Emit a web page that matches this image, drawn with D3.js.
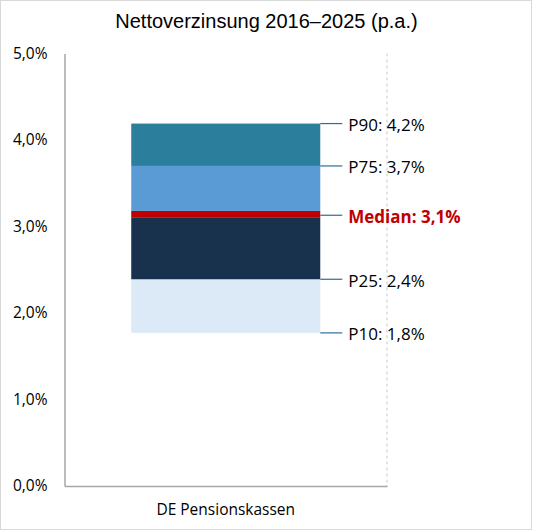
<!DOCTYPE html>
<html>
<head>
<meta charset="utf-8">
<script src="https://cdn.jsdelivr.net/npm/d3@7"></script>
<style>
  html, body { margin: 0; padding: 0; background: #fff; }
  svg { display: block; }
</style>
</head>
<body>
<svg id="chart" width="533" height="531"></svg>
<script>
// ---- data ----
const title = "Nettoverzinsung 2016–2025 (p.a.)";
const categories = ["DE Pensionskassen"];
const yTicks = [0, 1, 2, 3, 4, 5];
// stacked segments (bottom to top); first one is the invisible base
const segNames  = ["Basis", "P10–P25", "P25–Median", "Median", "Median–P75", "P75–P90"];
const segValues = [1.77, 0.62, 0.71, 0.08, 0.52, 0.49];
const segColors = ["none", "#dbeaf6", "#18324e", "#c00000", "#5b9bd5", "#2b7f9d"];
// percentile markers: label, displayed value, index of the stack boundary it points to
const pctNames  = ["P10", "P25", "Median", "P75", "P90"];
const pctValues = [1.8, 2.4, 3.1, 3.7, 4.2];
const pctBoundary = [0, 1, 2, 4, 5]; // top of segment index (cumulative)

(function () {
// ---- layout ----
const svg = d3.select("#chart");
const W = 533, H = 531;
const mLeft = 64.5, mRight = 387, mTop = 53.5, mBottom = 486;

svg.append("rect").attr("x", 0.5).attr("y", 0.5).attr("width", 531).attr("height", 529)
  .attr("fill", "#fff").attr("stroke", "#d9d9d9").attr("stroke-width", 1);

const x = d3.scaleBand().domain(categories).range([mLeft, mRight])
  .paddingInner(0).paddingOuter(0.353);
const y = d3.scaleLinear().domain([0, 5]).range([mBottom, mTop]);

// title
svg.append("text").attr("x", W / 2).attr("y", 28).attr("text-anchor", "middle")
  .attr("font-family", "Liberation Sans, Arial, sans-serif").attr("font-size", 20)
  .attr("fill", "#000").text(title);

// right dashed border of plot
svg.append("line").attr("x1", mRight).attr("x2", mRight).attr("y1", mTop).attr("y2", mBottom)
  .attr("stroke", "#c8c8c8").attr("stroke-width", 1).attr("stroke-dasharray", "3,3");

// stacked bars
const cum = [];
segValues.reduce((acc, v) => { cum.push([acc, acc + v]); return acc + v; }, 0);
const cat = categories[0];
svg.append("g").selectAll("rect")
  .data(segValues.map((v, i) => ({ name: segNames[i], y0: cum[i][0], y1: cum[i][1], color: segColors[i] }))
    .filter(d => d.color !== "none"))
  .join("rect")
  .attr("x", x(cat)).attr("width", x.bandwidth())
  .attr("y", d => y(d.y1)).attr("height", d => y(d.y0) - y(d.y1))
  .attr("fill", d => d.color);

// y axis
const fmt = d => d.toFixed(1).replace(".", ",") + "%";
const yAxis = svg.append("g").attr("transform", `translate(${mLeft},0)`)
  .call(d3.axisLeft(y).tickValues(yTicks).tickFormat(fmt).tickSize(0).tickSizeOuter(0).tickPadding(17));
yAxis.select(".domain").attr("stroke", "#a6a6a6").attr("stroke-width", 1.5);
yAxis.selectAll("text").attr("font-family", "Open Sans, sans-serif").attr("font-size", 15.5).attr("fill", "#000");

// x axis
const xAxis = svg.append("g").attr("transform", `translate(0,${mBottom})`)
  .call(d3.axisBottom(x).tickSize(0).tickSizeOuter(0).tickPadding(18));
xAxis.select(".domain").attr("stroke", "#a6a6a6").attr("stroke-width", 1.5);
xAxis.selectAll("text").attr("font-family", "Open Sans, sans-serif").attr("font-size", 15.5).attr("fill", "#000");

// percentile leaders + labels
const barRight = x(cat) + x.bandwidth();
const lab = svg.append("g");
pctNames.forEach((n, i) => {
  const b = cum[pctBoundary[i]][1];
  const isMed = n === "Median";
  const ly = y(isMed ? (cum[2][1] + cum[3][1]) / 2 - 0.01 : b);
  lab.append("line").attr("x1", barRight).attr("x2", barRight + 22)
    .attr("y1", ly).attr("y2", ly).attr("stroke", "#2b6f94").attr("stroke-width", 1.2);
  lab.append("text").attr("x", barRight + 28).attr("y", ly + 1)
    .attr("dominant-baseline", "central")
    .attr("font-family", "Open Sans, sans-serif").attr("font-size", 17)
    .attr("font-weight", isMed ? "bold" : "normal")
    .attr("fill", isMed ? "#c00000" : "#000")
    .text(`${n}: ${fmt(pctValues[i])}`);
});
})();
</script>
</body>
</html>
